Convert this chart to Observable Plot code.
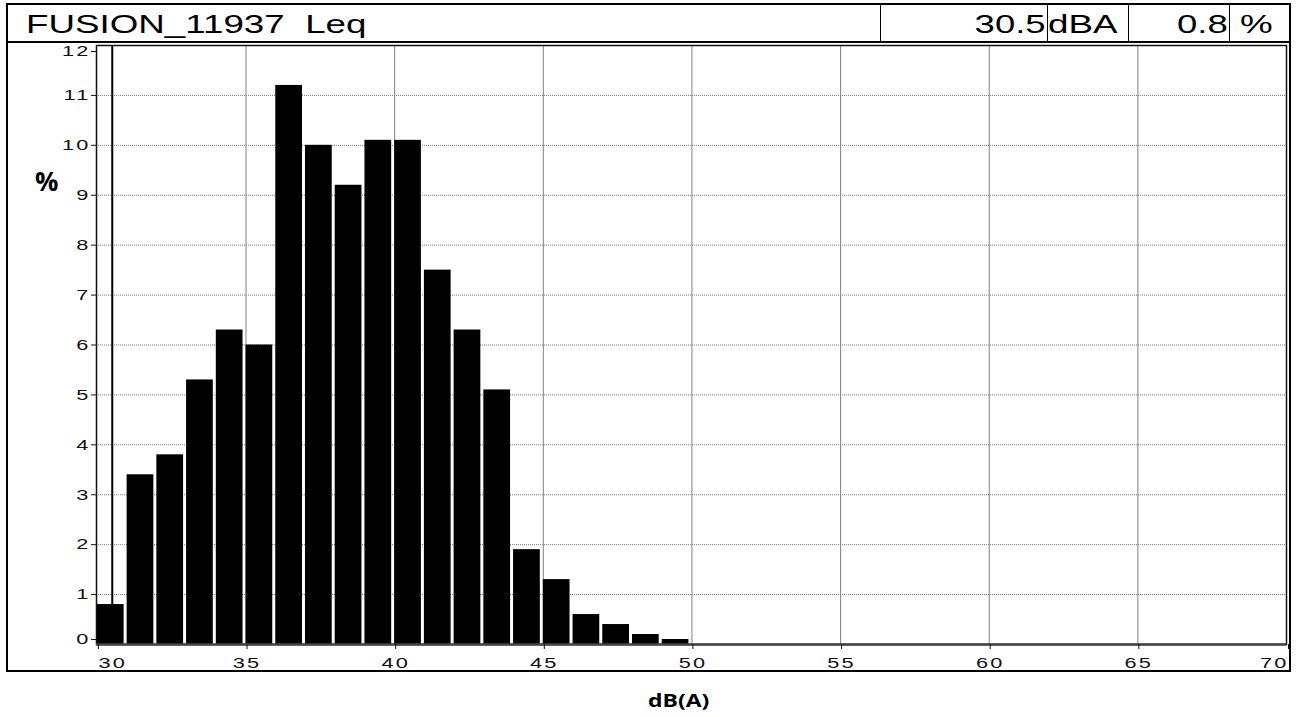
<!DOCTYPE html>
<html>
<head>
<meta charset="utf-8">
<script src="https://cdn.jsdelivr.net/npm/d3@7"></script>
<script src="https://cdn.jsdelivr.net/npm/@observablehq/plot@0.6"></script>
<style>
  html, body { margin: 0; padding: 0; background: #fff; }
  #wrap { position: relative; width: 1300px; height: 717px; overflow: hidden; font-family: "Liberation Sans", Arial, sans-serif; }
  #wrap svg { position: absolute; left: 0; top: 0; }
  #wrap svg g[aria-label$="tick label"] text { letter-spacing: 1.5px; }
  .ov { position: absolute; box-sizing: border-box; }
  .hdr { position: absolute; font-size: 25px; line-height: 25px; top: 12px; color: #000; white-space: pre; }
  .hdr.l { transform: scaleX(1.47); transform-origin: left center; }
  .hdr.r { transform: scaleX(1.46); transform-origin: right center; text-align: right; }
  .lbl { position: absolute; font-family: "Open Sans", sans-serif; font-weight: 700; color: #000; white-space: nowrap; }
</style>
</head>
<body>
<div id="wrap"></div>
<script>
// ---- data ----
const title = "FUSION_11937  Leq";
const binStart = [30, 31, 32, 33, 34, 35, 36, 37, 38, 39, 40, 41, 42, 43, 44, 45, 46, 47, 48, 49];
const percent  = [0.8, 3.4, 3.8, 5.3, 6.3, 6.0, 11.2, 10.0, 9.2, 10.1, 10.1, 7.5, 6.3, 5.1, 1.9, 1.3, 0.6, 0.4, 0.2, 0.1];
const xTicks = [30, 35, 40, 45, 50, 55, 60, 65, 70];
const yTicks = [0, 1, 2, 3, 4, 5, 6, 7, 8, 9, 10, 11, 12];
const cursorLevel = 30.5;      // dBA
const cursorPercent = 0.8;     // %
const xLabel = "dB(A)";
const yLabel = "%";

const bars = binStart.map((b, i) => ({lo: b, hi: b + 1, pct: percent[i]}));

const fmt = d => String(d);
const axisStyle = {fontSize: 15, fill: "#111", stroke: "#111", tickFormat: fmt, label: null};
const innerX = xTicks.slice(1, -1);
const innerY = yTicks.slice(1, -1);

const chart = Plot.plot({
  width: 1300,
  height: 717,
  marginLeft: 96,
  marginRight: 14,
  marginTop: 45,
  marginBottom: 73,
  style: {fontFamily: "'Liberation Sans', Arial, sans-serif", fontSize: "15px", color: "#111", background: "transparent"},
  x: {domain: [29.97, 70], axis: null, label: null},
  y: {domain: [0, 12], axis: null, label: null},
  marks: [
    Plot.gridY(innerY, {stroke: "#777", strokeOpacity: 1, strokeWidth: 1, strokeDasharray: "1,1"}),
    Plot.gridX(innerX, {stroke: "#808080", strokeOpacity: 1, strokeWidth: 1}),
    Plot.rectY(bars, {x1: "lo", x2: "hi", y: "pct", fill: "#000", insetRight: 3}),
    Plot.ruleX([cursorLevel], {stroke: "#000", strokeWidth: 2}),
    Plot.frame({stroke: "#111", strokeWidth: 1.5}),
    Plot.ruleY([0], {stroke: "#444", strokeWidth: 2.5}),
    Plot.axisY(innerY, {tickSize: 5, tickPadding: 1, ...axisStyle}),
    Plot.axisY([yTicks[0]], {tickSize: 5, tickPadding: 1, dy: -5, ...axisStyle}),
    Plot.axisY([yTicks[yTicks.length - 1]], {tickSize: 5, tickPadding: 1, dy: 6, ...axisStyle}),
    Plot.axisX(innerX, {tickSize: 5, tickPadding: 8, dx: 1, ...axisStyle}),
    Plot.axisX([xTicks[0]], {tickSize: 5, tickPadding: 8, textAnchor: "start", dx: 1, ...axisStyle}),
    Plot.axisX([xTicks[xTicks.length - 1]], {tickSize: 5, tickPadding: 8, textAnchor: "end", dx: 2, ...axisStyle})
  ]
});

// widen tick labels horizontally like the original instrument printout
chart.querySelectorAll('g[aria-label$="tick label"] text').forEach(t => {
  t.setAttribute("transform", (t.getAttribute("transform") || "") + " scale(1.45,1)");
});

const wrap = document.getElementById("wrap");
wrap.appendChild(chart);

function add(html) { wrap.insertAdjacentHTML("beforeend", html); }

// outer frame and header row
add('<div class="ov" style="left:6px;top:3px;width:1285px;height:669px;border:2px solid #000;"></div>');
add('<div class="ov" style="left:6px;top:41px;width:1285px;height:1.5px;background:#000;"></div>');
add('<div class="ov" style="left:880px;top:4px;width:168px;height:38px;border:1.5px solid #000;"></div>');
add('<div class="ov" style="left:1128px;top:4px;width:102px;height:38px;border:1.5px solid #000;"></div>');

// header texts
add(`<div class="hdr l" style="left:26px;">${title}</div>`);
add(`<div class="hdr r" style="right:${1300 - 1046}px;">${cursorLevel.toFixed(1)}</div>`);
add(`<div class="hdr l" style="left:1048px;">dBA</div>`);
add(`<div class="hdr r" style="right:${1300 - 1228}px;">${cursorPercent.toFixed(1)}</div>`);
add(`<div class="hdr l" style="left:1240px;">%</div>`);

// axis titles
add(`<div class="lbl" style="left:35px;top:166px;font-size:26px;line-height:30px;">${yLabel}</div>`);
add(`<div class="lbl" style="left:648px;top:690px;font-size:17px;line-height:22px;transform:scaleX(1.35);transform-origin:left center;">${xLabel}</div>`);
</script>
</body>
</html>
